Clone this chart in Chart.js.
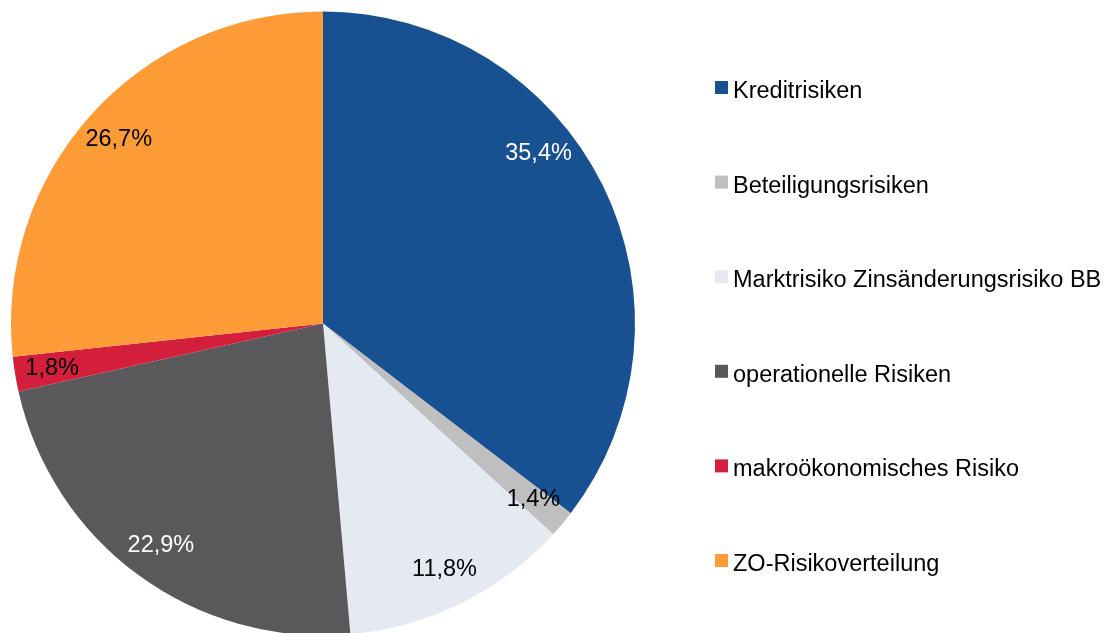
<!DOCTYPE html>
<html lang="de">
<head>
<meta charset="utf-8">
<title>Risikoverteilung</title>
<script src="https://cdn.jsdelivr.net/npm/chart.js@4"></script>
<style>
  html, body { margin: 0; padding: 0; background: #fff; overflow: hidden; }
  #wrap { width: 1114px; height: 648px; }
</style>
</head>
<body>
<div id="wrap"><canvas id="riskChart" width="1114" height="648"></canvas></div>
<script>
// --- Data ---
const categories = [
    'Kreditrisiken',
    'Beteiligungsrisiken',
    'Marktrisiko Zinsänderungsrisiko BB',
    'operationelle Risiken',
    'makroökonomisches Risiko',
    'ZO-Risikoverteilung'
];
const shares = [35.4, 1.4, 11.8, 22.9, 1.8, 26.7];

const sliceColors = ['#175192', '#bfbfbf', '#e5e9f2', '#59595b', '#d31e3c', '#fd9b37'];
const labelColors = ['#ffffff', '#000000', '#000000', '#ffffff', '#000000', '#000000'];

const FONT = '23.5px "Liberation Sans", Arial, sans-serif';

// percent labels inside the slices
const sliceLabels = {
    id: 'sliceLabels',
    afterDatasetsDraw(chart, args, opts) {
        const ctx = chart.ctx;
        const meta = chart.getDatasetMeta(0);
        ctx.save();
        ctx.font = FONT;
        ctx.textAlign = 'center';
        ctx.textBaseline = 'middle';
        meta.data.forEach((arc, i) => {
            const p = arc.getProps(['x', 'y', 'startAngle', 'endAngle', 'outerRadius'], true);
            const shift = (opts.angleShift[i] || 0) * Math.PI / 180;
            const mid = (p.startAngle + p.endAngle) / 2 + shift;
            const r = p.outerRadius * opts.radiusFactor;
            const v = chart.data.datasets[0].data[i];
            ctx.fillStyle = labelColors[i];
            ctx.fillText(v.toFixed(1).replace('.', ',') + '%',
                p.x + Math.cos(mid) * r, p.y + Math.sin(mid) * r);
        });
        ctx.restore();
    }
};

// legend on the right, one row per category
const sideLegend = {
    id: 'sideLegend',
    afterDraw(chart, args, opts) {
        const ctx = chart.ctx;
        const ds = chart.data.datasets[0];
        ctx.save();
        ctx.font = FONT;
        ctx.textAlign = 'left';
        ctx.textBaseline = 'alphabetic';
        chart.data.labels.forEach((label, i) => {
            const y = opts.top + i * opts.rowGap;
            ctx.fillStyle = ds.backgroundColor[i];
            ctx.fillRect(opts.left, y - 17, 13, 13);
            ctx.fillStyle = '#000';
            ctx.fillText(label, opts.left + 18, y);
        });
        ctx.restore();
    }
};

new Chart(document.getElementById('riskChart').getContext('2d'), {
    type: 'pie',
    data: {
        labels: categories,
        datasets: [{
            data: shares,
            backgroundColor: sliceColors,
            borderWidth: 0,
            hoverOffset: 0
        }]
    },
    options: {
        responsive: false,
        animation: false,
        events: [],
        layout: { padding: { left: 11, top: 11, right: 479, bottom: 12 } },
        plugins: {
            legend: { display: false },
            tooltip: { enabled: false },
            sliceLabels: { radiusFactor: 0.88, angleShift: [-12, 0, 0, 0, 0, 0] },
            sideLegend: { left: 715, top: 98, rowGap: 94.6 }
        }
    },
    plugins: [sliceLabels, sideLegend]
});
</script>
</body>
</html>
